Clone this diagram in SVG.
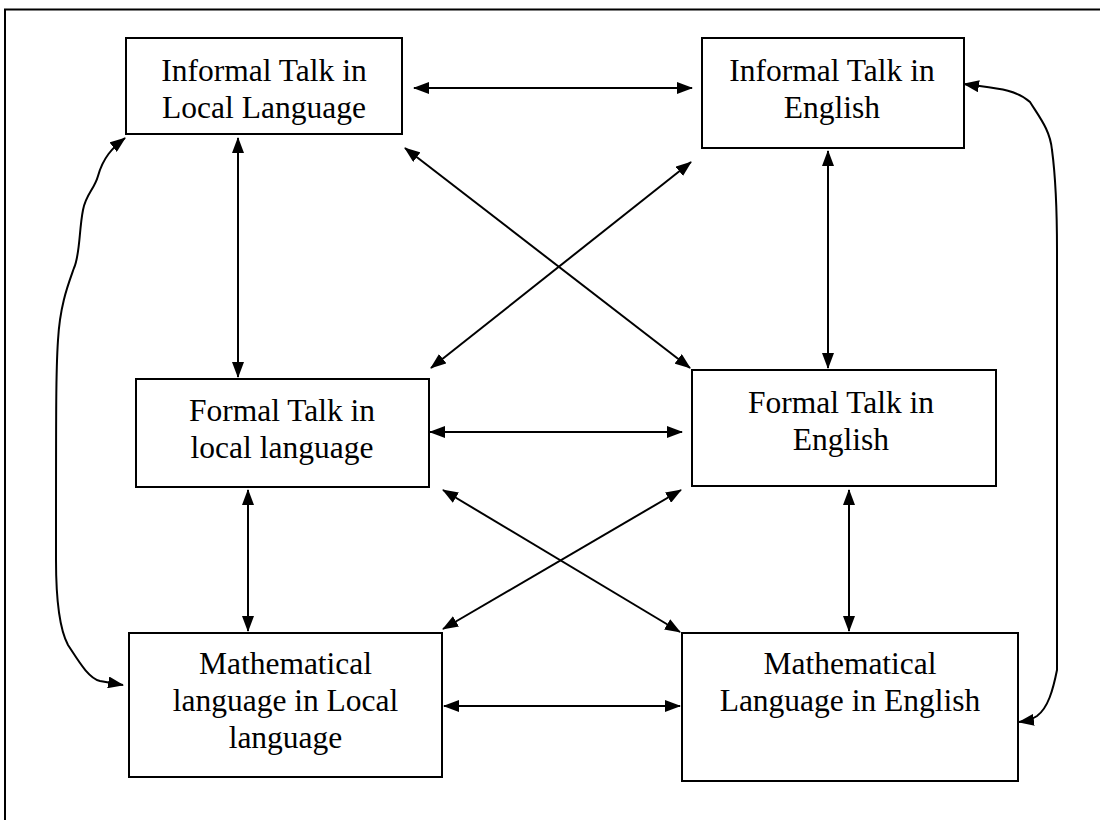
<svg xmlns="http://www.w3.org/2000/svg" width="1100" height="820" viewBox="0 0 1100 820">
<style>
.box{fill:#fff;stroke:#000;stroke-width:2}
.t{font-family:"Liberation Serif","Times New Roman",serif;font-size:31.5px;fill:#000;text-anchor:middle}
.c{fill:none;stroke:#000;stroke-width:2;marker-start:url(#ah);marker-end:url(#ah)}
.frame{fill:none;stroke:#000;stroke-width:2}
</style>
<defs>
<marker id="ah" viewBox="0 0 16 12" refX="15" refY="6" markerWidth="16" markerHeight="12" orient="auto-start-reverse" markerUnits="userSpaceOnUse">
<path d="M0,0 L16,6 L0,12 z" fill="#000"/>
</marker>
</defs>
<rect width="1100" height="820" fill="#fff"/>
<path class="frame" d="M5,820 L5,9.5 L1100,9.5"/>

<g id="connectors">
<line class="c" x1="414" y1="88" x2="692" y2="88"/>
<line class="c" x1="238" y1="138" x2="238" y2="377"/>
<line class="c" x1="828" y1="151" x2="828" y2="368"/>
<line class="c" x1="405" y1="148" x2="690" y2="368"/>
<line class="c" x1="691" y1="162" x2="431" y2="368"/>
<line class="c" x1="430" y1="432" x2="682" y2="432"/>
<line class="c" x1="248" y1="490" x2="248" y2="631"/>
<line class="c" x1="849" y1="490" x2="849" y2="631"/>
<line class="c" x1="443" y1="490" x2="680" y2="632"/>
<line class="c" x1="681" y1="490" x2="443" y2="629"/>
<line class="c" x1="444" y1="706" x2="680" y2="706"/>
<path class="c" d="M125,138 C112,148 103,158 98,176 C94,190 86,194 83,210 C79,230 80,255 74,268 C68,285 60,305 58,340 C56,370 56,400 56,560 C56,600 60,630 68,645 C78,660 88,678 100,681 L123,685"/>
<path class="c" d="M964,84 C990,88 1015,88 1030,102 C1040,118 1050,130 1052,150 C1056,180 1057,210 1057,250 L1057,670 C1053,690 1048,708 1037,716 C1031,720 1026,721 1019,722"/>
</g>

<g id="informal-local">
<rect class="box" x="126" y="38" width="276" height="96"/>
<text class="t" x="264" y="81">Informal Talk in</text>
<text class="t" x="264" y="118">Local Language</text>
</g>
<g id="informal-english">
<rect class="box" x="702" y="38" width="262" height="110"/>
<text class="t" x="832" y="81">Informal Talk in</text>
<text class="t" x="832" y="118">English</text>
</g>
<g id="formal-local">
<rect class="box" x="136" y="379" width="293" height="108"/>
<text class="t" x="282" y="421">Formal Talk in</text>
<text class="t" x="282" y="458">local language</text>
</g>
<g id="formal-english">
<rect class="box" x="692" y="370" width="304" height="116"/>
<text class="t" x="841" y="413">Formal Talk in</text>
<text class="t" x="841" y="450">English</text>
</g>
<g id="math-local">
<rect class="box" x="129" y="633" width="313" height="144"/>
<text class="t" x="285.5" y="674">Mathematical</text>
<text class="t" x="285.5" y="711">language in Local</text>
<text class="t" x="285.5" y="748">language</text>
</g>
<g id="math-english">
<rect class="box" x="682" y="633" width="336" height="148"/>
<text class="t" x="850" y="674">Mathematical</text>
<text class="t" x="850" y="711">Language in English</text>
</g>
</svg>
